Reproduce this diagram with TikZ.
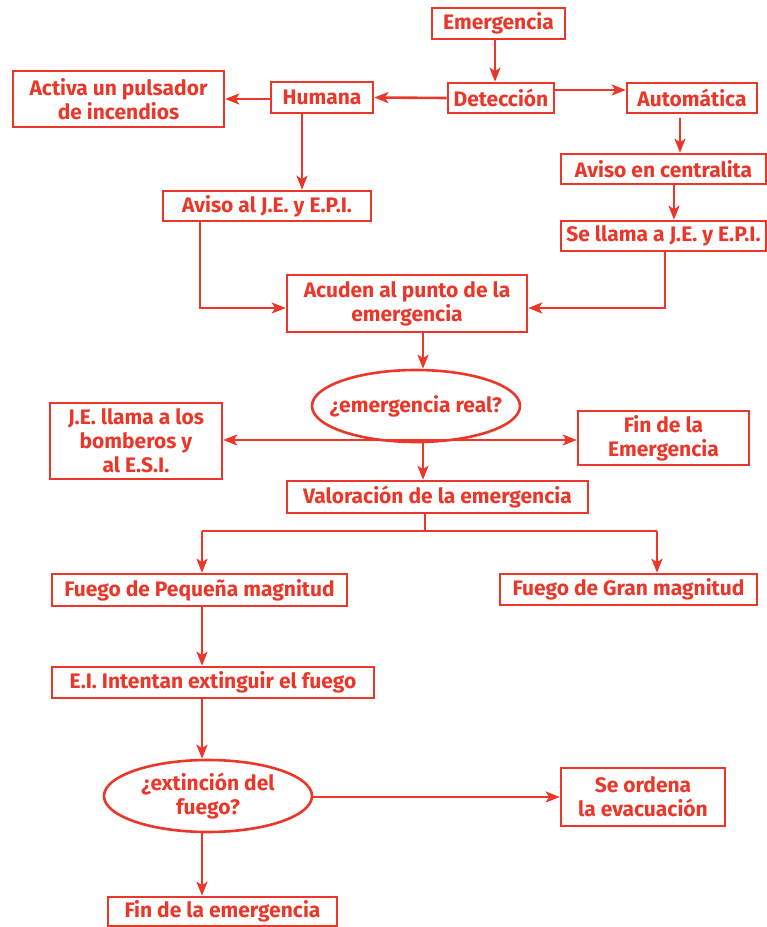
\documentclass[tikz,border=0pt]{standalone}
\usepackage{fontspec}
\setmainfont{Fira Sans}
\usetikzlibrary{arrows.meta,shapes.geometric}
\definecolor{fr}{RGB}{234,55,42}
\begin{document}
\begin{tikzpicture}[x=1pt,y=-1pt,
  every node/.style={font=\fontsize{21}{24}\selectfont\bfseries, text=fr, align=center, inner sep=0pt},
  box/.style={draw=fr, line width=2.6pt, rectangle},
  oval/.style={draw=fr, line width=2.6pt, ellipse},
  ln/.style={draw=fr, line width=2.6pt},
  arr/.style={ln, -{Stealth[length=14pt,width=11pt,inset=3.5pt]}},
  darr/.style={ln, {Stealth[length=14pt,width=11pt,inset=3.5pt]}-{Stealth[length=14pt,width=11pt,inset=3.5pt]}}]
\useasboundingbox (0,0) rectangle (767,927);
% nodes
\node[box, minimum width=133pt, minimum height=31pt] (emerg) at (498.5,23.5) {Emergencia};
\node[box, minimum width=106pt, minimum height=30pt] (detec) at (501,98) {Detección};
\node[box, minimum width=130pt, minimum height=30pt] (auto) at (692,98) {Automática};
\node[box, minimum width=102pt, minimum height=31pt] (humana) at (322,97.5) {Humana};
\node[box, minimum width=211pt, minimum height=56pt] (activa) at (118.5,99) {Activa un pulsador\\de incendios};
\node[box, minimum width=208pt, minimum height=30pt] (avisoje) at (267,206) {Aviso al J.E. y E.P.I.};
\node[box, minimum width=205pt, minimum height=30pt] (central) at (663.5,169) {Aviso en centralita};
\node[box, minimum width=205pt, minimum height=30pt] (sellama) at (663.5,236) {Se llama a J.E. y E.P.I.};
\node[box, minimum width=240pt, minimum height=57pt] (acuden) at (407,303.5) {Acuden al punto de la\\emergencia};
\node[oval, minimum width=208pt, minimum height=72pt] (real) at (416,406) {};
\node (realtxt) at (real.center) {¿emergencia real?};
\node[box, minimum width=172pt, minimum height=76pt] (jellama) at (136,441) {J.E. llama a los\\bomberos y\\al E.S.I.};
\node[box, minimum width=171pt, minimum height=54pt] (finE) at (663.5,438) {Fin de la\\Emergencia};
\node[box, minimum width=301pt, minimum height=32pt] (valor) at (437.5,497) {Valoración de la emergencia};
\node[box, minimum width=295pt, minimum height=32pt] (pequena) at (199.5,590) {Fuego de Pequeña magnitud};
\node[box, minimum width=257pt, minimum height=31pt] (gran) at (628.5,589.5) {Fuego de Gran magnitud};
\node[box, minimum width=322pt, minimum height=31pt] (ei) at (213,682.5) {E.I. Intentan extinguir el fuego};
\node[oval, minimum width=208pt, minimum height=72pt] (ext) at (208,796) {};
\node (exttxt) at (ext.center) {¿extinción del\\fuego?};
\node[box, minimum width=164pt, minimum height=58pt] (ordena) at (643,797) {Se ordena\\la evacuación};
\node[box, minimum width=229pt, minimum height=29pt] (fin) at (222.5,911.5) {Fin de la emergencia};
% coordinates
\coordinate (jl) at (200,308);
\coordinate (jr) at (665,308);
\coordinate (hl) at (222,440);
\coordinate (hr) at (578,440);
\coordinate (hm) at (423,440);
\coordinate (sm) at (425,531);
\coordinate (sl) at (202,531);
\coordinate (sr) at (657,531);
% connectors
\draw[arr] (emerg.south -| 495,0) -- (detec.north -| 495,0);
\draw[arr] (detec.west) -- (humana.east);
\draw[arr] (detec.east |- 0,90) -- (auto.west |- 0,90);
\draw[arr] (humana.west |- 0,99) -- (activa.east |- 0,99);
\draw[arr] (humana.south -| 302,0) -- (avisoje.north -| 302,0);
\draw[arr, shorten <=4pt] (auto.south -| 680,0) -- (central.north -| 680,0);
\draw[arr] (central.south -| 674,0) -- (sellama.north -| 674,0);
\draw[arr] (sellama.south -| jr) -- (jr) -- (acuden.east |- jr);
\draw[arr] (avisoje.south -| jl) -- (jl) -- (acuden.west |- jl);
\draw[arr] (acuden.south -| 423,0) -- (real.north -| 423,0);
\draw[darr] (jellama.east |- hl) -- (finE.west |- hr);
\draw[arr] (hm) -- (valor.north -| hm);
\draw[ln] (valor.south -| sm) -- (sm);
\draw[ln] (sl) -- (sr);
\draw[arr] (sl) -- (pequena.north -| sl);
\draw[arr] (sr) -- (gran.north -| sr);
\draw[arr] (pequena.south -| 202,0) -- (ei.north -| 202,0);
\draw[arr] (ei.south -| 202,0) -- (ext.north -| 202,0);
\draw[arr] (ext.east |- 0,797) -- (ordena.west |- 0,797);
\draw[arr] (ext.south -| 202,0) -- (fin.north -| 202,0);
\end{tikzpicture}
\end{document}
